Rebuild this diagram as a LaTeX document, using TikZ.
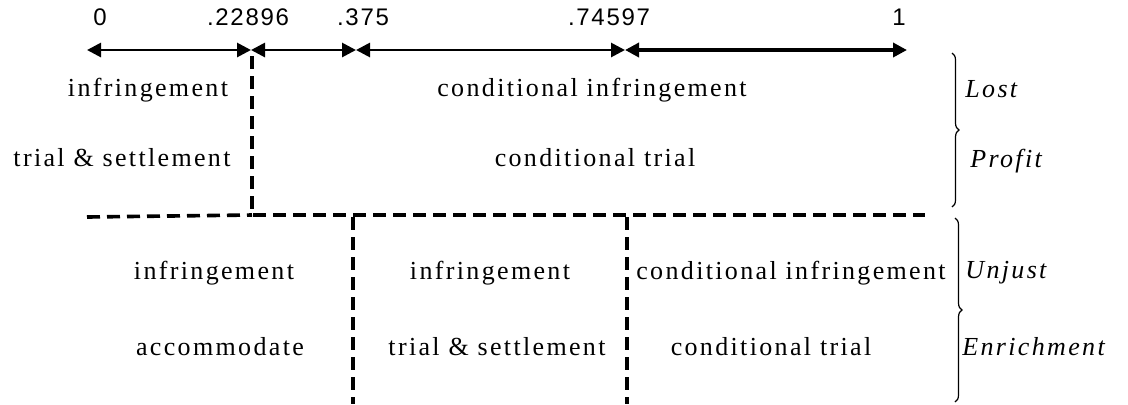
\documentclass[tikz,border=0pt]{standalone}
\usepackage{fontspec}
\setmainfont{Liberation Serif}
\newfontfamily\numfont[LetterSpace=7]{Liberation Sans}
\newfontfamily\txtfont[LetterSpace=9]{Liberation Serif}
\usetikzlibrary{arrows.meta,decorations.pathreplacing}
\tikzset{
  num/.style={font=\numfont\fontsize{12}{14}\selectfont, anchor=base, inner sep=0pt},
  lbl/.style={font=\txtfont\fontsize{13}{15}\selectfont, anchor=base, inner sep=0pt},
  side/.style={font=\txtfont\itshape\fontsize{13}{15}\selectfont, anchor=base west, inner sep=0pt},
  numline/.style={line width=1.4pt, {Triangle[length=7pt,width=7pt]}-{Triangle[length=7pt,width=7pt]}},
  dline/.style={line width=1.8pt, dash pattern=on 6.5pt off 3.5pt},
  bracestyle/.style={line width=0.6pt, decorate, decoration={brace, amplitude=3.5pt}}
}
\begin{document}
\begin{tikzpicture}[x=0.5pt, y=-0.5pt]
\useasboundingbox (0,0) rectangle (1128,404);
% tick points on the number line
\coordinate (t0) at (87,50);
\coordinate (t1) at (251,50);
\coordinate (t2) at (356,50);
\coordinate (t3) at (625,50);
\coordinate (t4) at (907,50);
% numbers
\node[num] (n0) at (100,25) {0};
\node[num] (n1) at (248,25) {.22896};
\node[num] (n2) at (363,25) {.375};
\node[num] (n3) at (609,25) {.74597};
\node[num] (n4) at (899,25) {1};
% number line segments
\draw[numline] (t0) -- (t1);
\draw[numline] (t1) -- (t2);
\draw[numline] (t2) -- (t3);
\draw[numline, line width=1.8pt] (t3) -- (t4);
% dashed separators
\coordinate (v1top) at (252,56);
\coordinate (v1bot) at (252,215);
\coordinate (hleft) at (87,217);
\coordinate (hright) at (925,215);
\draw[dline] (v1top) -- (v1bot) -- (hright);
\draw[dline] (hleft) -- (v1bot);
\coordinate (v2top) at (353,217);
\coordinate (v2bot) at (353,404);
\coordinate (v3top) at (627,217);
\coordinate (v3bot) at (627,404);
\draw[dline] (v2top) -- (v2bot);
\draw[dline] (v3top) -- (v3bot);
% upper texts
\node[lbl] (a1) at (148,96) {infringement};
\node[lbl] (a2) at (592,96) {conditional infringement};
\node[lbl] (b1) at (122,166) {trial \& settlement};
\node[lbl] (b2) at (595,166) {conditional trial};
% lower texts
\node[lbl] (c1) at (214,279) {infringement};
\node[lbl] (c2) at (490,279) {infringement};
\node[lbl] (c3) at (791,279) {conditional infringement};
\node[lbl] (d1) at (220,355) {accommodate};
\node[lbl] (d2) at (497,355) {trial \& settlement};
\node[lbl] (d3) at (771,355) {conditional trial};
% braces
\coordinate (br1a) at (952,53);
\coordinate (br1b) at (952,207);
\coordinate (br2a) at (955,218);
\coordinate (br2b) at (955,402);
\draw[bracestyle] (br1a) -- (br1b);
\draw[bracestyle] (br2a) -- (br2b);
\node[side] (s1) at (965,97) {Lost};
\node[side] (s2) at (970,167) {Profit};
\node[side] (s3) at (965,278) {Unjust};
\node[side] (s4) at (962,355) {Enrichment};
\end{tikzpicture}
\end{document}
